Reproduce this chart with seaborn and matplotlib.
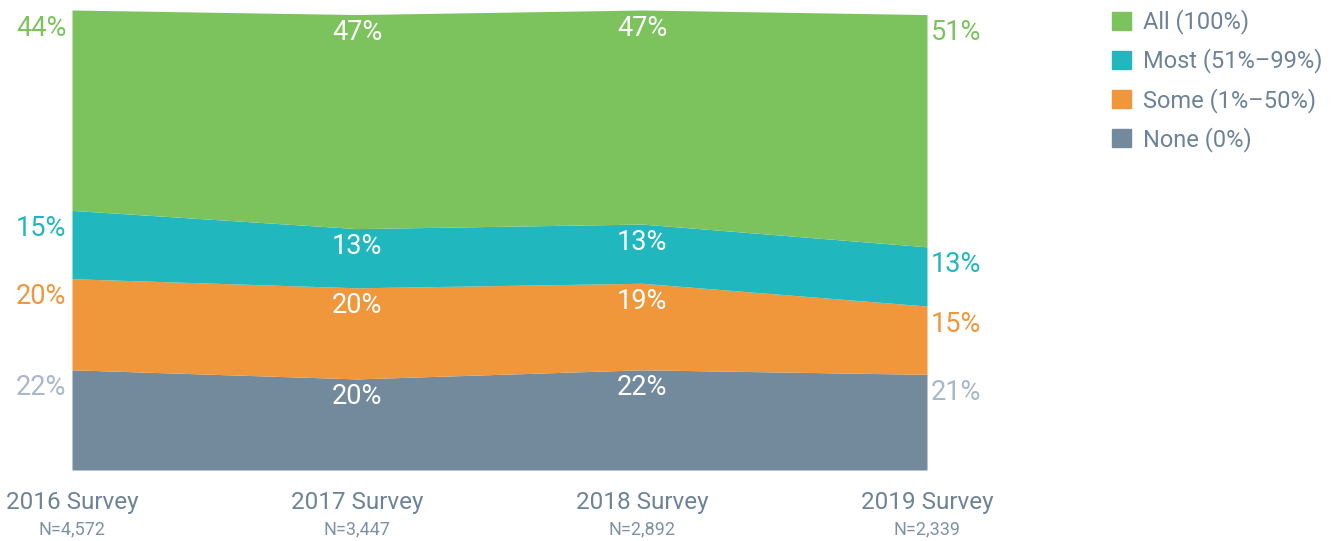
import matplotlib
matplotlib.use("Agg")
import matplotlib.pyplot as plt
import matplotlib.patches as mpatches
import seaborn as sns
import numpy as np

surveys = ["2016 Survey", "2017 Survey", "2018 Survey", "2019 Survey"]
sample_sizes = ["N=4,572", "N=3,447", "N=2,892", "N=2,339"]

none_vals = [22, 20, 22, 21]
some_vals = [20, 20, 19, 15]
most_vals = [15, 13, 13, 13]
all_vals = [44, 47, 47, 51]

series_names = ["None (0%)", "Some (1%\u201350%)", "Most (51%\u201399%)", "All (100%)"]
colors = ["#738A9D", "#F0963B", "#20B8BE", "#7CC35E"]
edge_label_colors = ["#A9B7CA", "#F0963B", "#20B8BE", "#7CC35E"]

sns.set_theme(style="white")
plt.rcParams["font.family"] = ["Roboto", "DejaVu Sans"]

fig = plt.figure(figsize=(13.31, 5.41), dpi=100)
ax = fig.add_axes([72 / 1331, 1 - 470 / 541, 855 / 1331, 460 / 541])

x = np.arange(len(surveys))
stack = [none_vals, some_vals, most_vals, all_vals]
ax.stackplot(x, *stack, colors=colors, linewidth=0)
ax.set_xlim(0, 3)
ax.set_ylim(0, 101)
ax.set_xticks([])
ax.set_yticks([])
sns.despine(ax=ax, left=True, bottom=True)

# value labels sit just below the top edge of each band
tops = np.cumsum(np.array(stack), axis=0)
for s, vals in enumerate(stack):
    for i, v in enumerate(vals):
        label = f"{v}%"
        if i == 0:
            ax.annotate(label, (i, tops[s][i]), xytext=(-4, -13), textcoords="offset points",
                        ha="right", va="center", fontsize=19.5, color=edge_label_colors[s])
        elif i == len(x) - 1:
            ax.annotate(label, (i, tops[s][i]), xytext=(3, -13), textcoords="offset points",
                        ha="left", va="center", fontsize=19.5, color=edge_label_colors[s])
        else:
            ax.annotate(label, (i, tops[s][i]), xytext=(0, -13), textcoords="offset points",
                        ha="center", va="center", fontsize=19.5, color="white")

trans = ax.get_xaxis_transform()
for i, (name, n) in enumerate(zip(surveys, sample_sizes)):
    ax.text(i, -0.071, name, transform=trans, ha="center", va="center",
            fontsize=17.5, color="#6E8398")
    ax.text(i, -0.128, n, transform=trans, ha="center", va="center",
            fontsize=13, color="#7F92A5")

handles = [mpatches.Patch(color=colors[k], label=series_names[k]) for k in [3, 2, 1, 0]]
leg = fig.legend(handles=handles, loc="upper left", bbox_to_anchor=(1103 / 1331, 1 - 0 / 541),
                 frameon=False, fontsize=17, handlelength=0.8, handleheight=0.8,
                 handletextpad=0.5, labelspacing=0.6, borderaxespad=0)
for t in leg.get_texts():
    t.set_color("#6E8398")

fig.savefig("out.png", dpi=100)
